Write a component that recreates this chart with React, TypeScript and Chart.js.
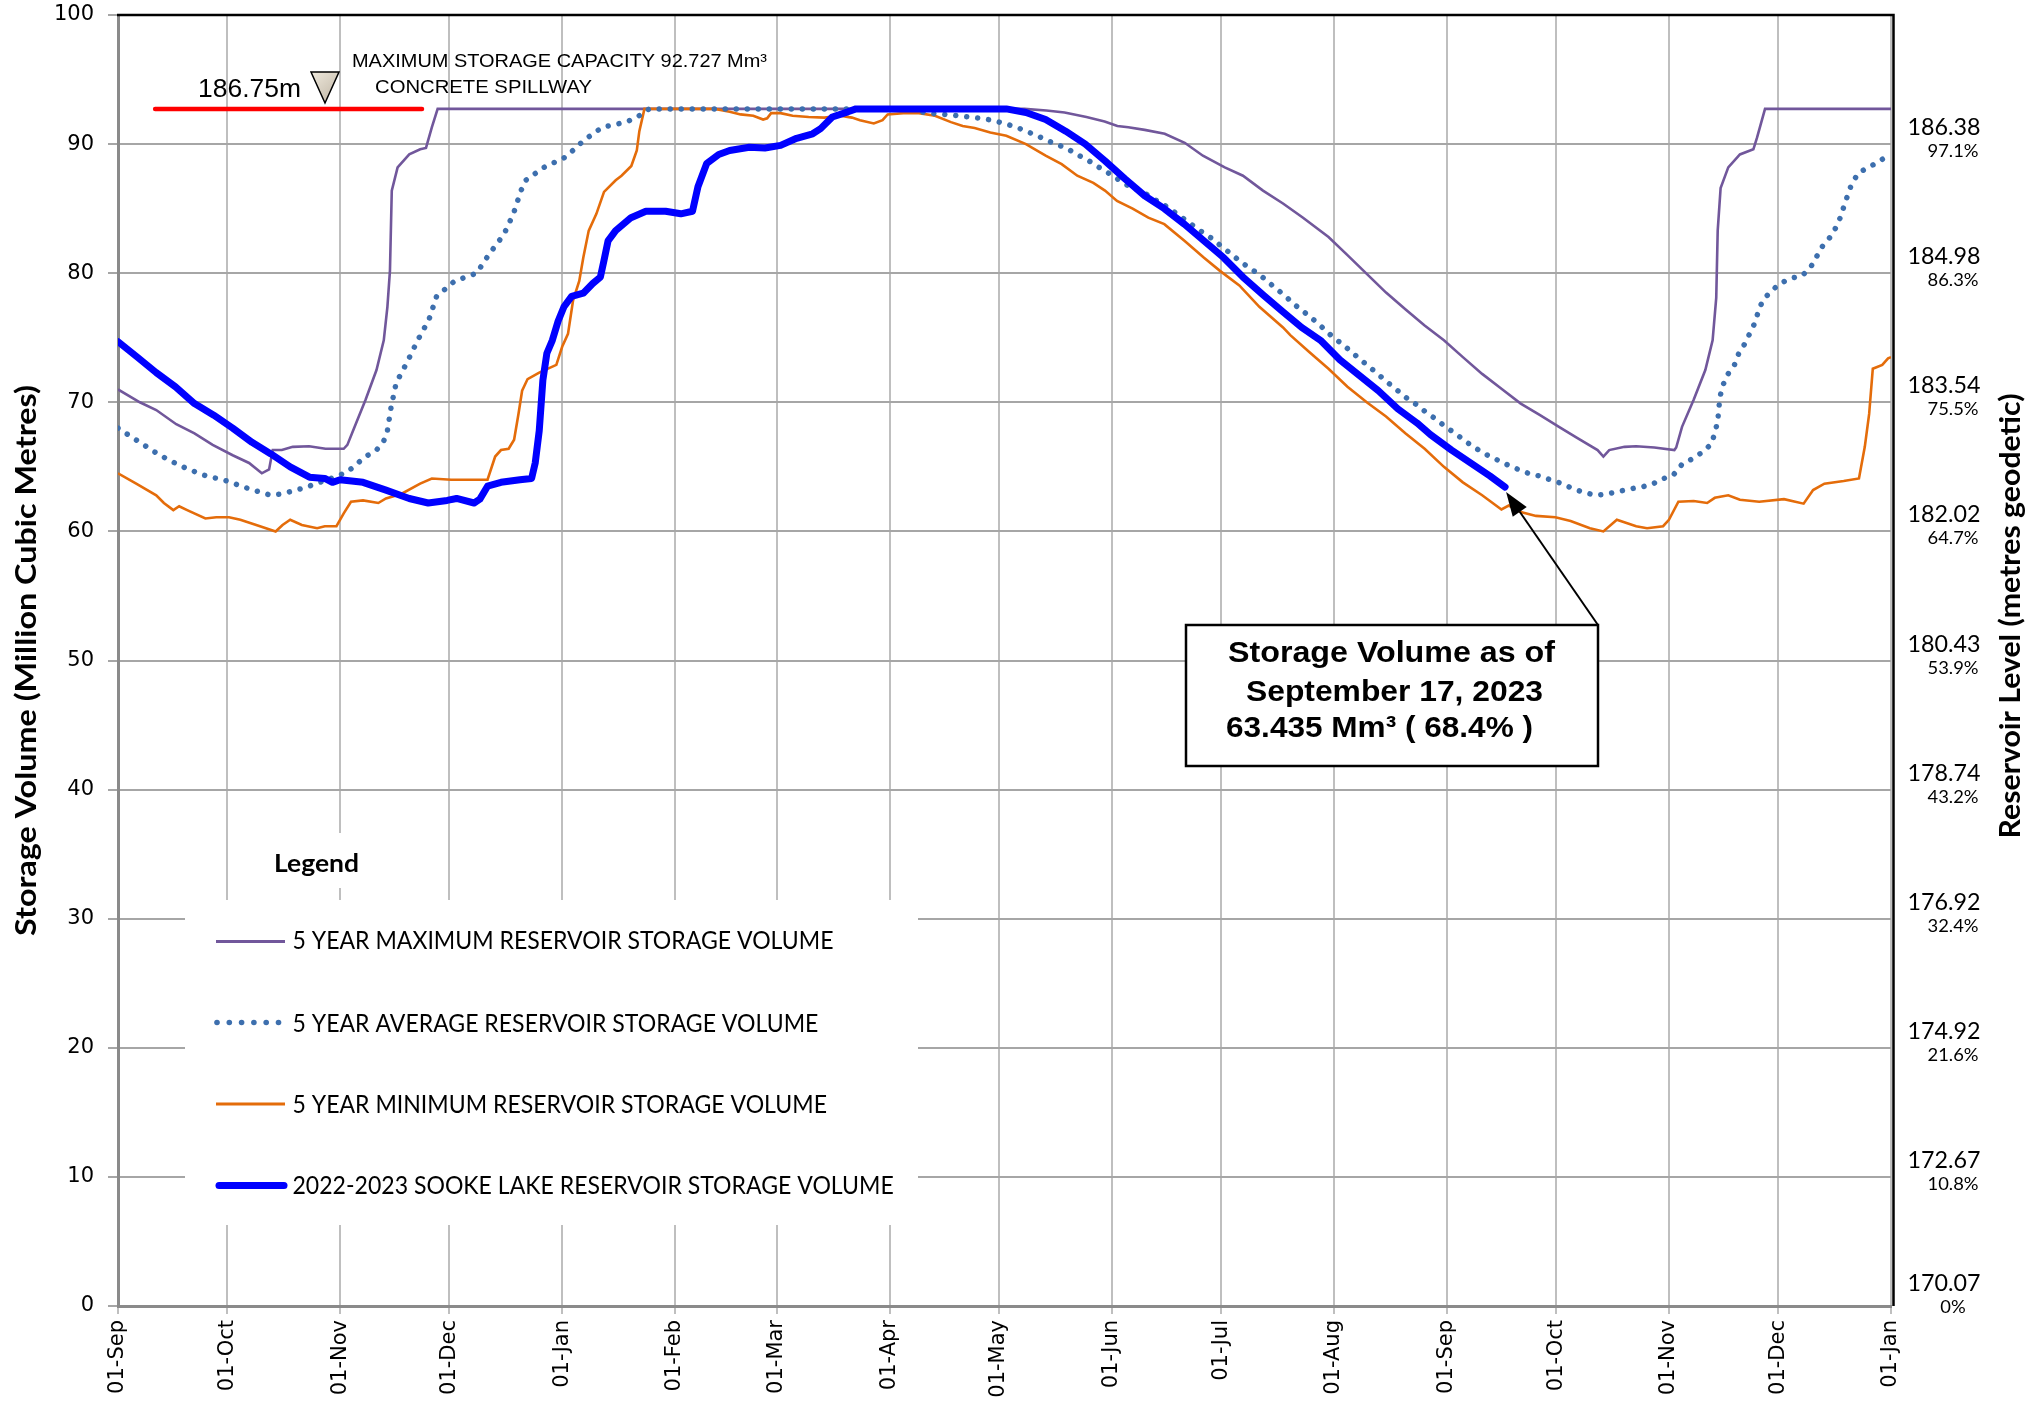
import React, { useEffect, useRef } from 'react';
import { Chart, registerables } from 'chart.js';

Chart.register(...registerables);

// ---------- DATA ----------
// x = days since 01-Sep-2022, y = storage volume (million m³)
const MONTH_DAYS = [0, 30, 61, 91, 122, 153, 181, 212, 242, 273, 303, 334, 365, 395, 426, 456, 487];
const MONTH_LABELS = ['01-Sep', '01-Oct', '01-Nov', '01-Dec', '01-Jan', '01-Feb', '01-Mar', '01-Apr', '01-May', '01-Jun', '01-Jul', '01-Aug', '01-Sep', '01-Oct', '01-Nov', '01-Dec', '01-Jan'];

const Y_TICK_VALUES = [0, 10, 20, 30, 40, 50, 60, 70, 80, 90];
const RIGHT_LEVELS = ['170.07', '172.67', '174.92', '176.92', '178.74', '180.43', '182.02', '183.54', '184.98', '186.38'];
const RIGHT_PERCENTS = ['0%', '10.8%', '21.6%', '32.4%', '43.2%', '53.9%', '64.7%', '75.5%', '86.3%', '97.1%'];

const MAX_DAYS = [0, 6, 10.5, 16, 21, 26, 31.5, 36, 39.5, 41.5, 42.5, 45, 48, 52.5, 57, 62, 63, 65, 68, 71, 73, 74, 74.7, 75.2, 76.8, 80, 83, 84.6, 86.2, 87.8, 249, 255, 260, 266, 271, 274.5, 277.5, 282, 287.5, 293, 298, 304, 309, 314.5, 320, 325.5, 332.5, 337.7, 343, 348.3, 353.6, 358.9, 364.2, 369.4, 374.7, 380, 385.3, 390.6, 395.8, 401, 406.4, 408, 409.6, 413.8, 417, 422, 427.5, 428, 429.6, 432.8, 436, 438, 439, 439.4, 440.2, 442.3, 445.5, 449.2, 450.2, 452.4, 487];
const MAX_VOLUMES = [71.0, 70.0, 69.4, 68.3, 67.6, 66.7, 65.9, 65.3, 64.5, 64.8, 66.3, 66.3, 66.55, 66.6, 66.4, 66.4, 66.7, 68.1, 70.2, 72.5, 74.8, 77.4, 80.2, 86.4, 88.2, 89.2, 89.6, 89.7, 91.3, 92.727, 92.727, 92.6, 92.45, 92.1, 91.75, 91.4, 91.3, 91.1, 90.8, 90.1, 89.1, 88.2, 87.55, 86.4, 85.4, 84.3, 82.8, 81.4, 79.95, 78.5, 77.2, 75.95, 74.8, 73.5, 72.2, 71.05, 69.9, 69.0, 68.1, 67.2, 66.3, 65.8, 66.3, 66.55, 66.6, 66.5, 66.3, 66.5, 68.1, 70.2, 72.5, 74.8, 78.1, 83.3, 86.6, 88.2, 89.2, 89.6, 90.5, 92.727, 92.727];

const AVG_DAYS = [0, 6, 11.5, 17, 23, 30, 36, 42, 45, 51.5, 57.5, 63, 68, 71, 73, 74, 75, 76.4, 79.4, 82.4, 85.4, 87.5, 92.5, 98.5, 102, 106, 108.6, 110.7, 112, 117, 123, 128, 133, 139.5, 142.7, 145, 146, 218, 222, 227, 230.5, 233.7, 237, 240, 243.4, 246.4, 249.4, 252.5, 255.4, 258.6, 261.6, 264.4, 267.3, 270, 273, 276, 278.7, 281.5, 284.2, 287, 289.6, 292.3, 295, 297.7, 300.4, 303, 305.7, 308.3, 310.8, 313.5, 316, 318.6, 321.1, 323.7, 326.2, 328.8, 331.2, 333.7, 336.3, 338.8, 341.3, 343.9, 346.4, 348.9, 351.5, 354.1, 356.8, 359.4, 362, 364.6, 367.3, 370, 372.6, 375.5, 378.4, 381.3, 384.2, 387.4, 390.3, 393.5, 396.6, 399.7, 402.8, 406, 409, 412.3, 415.5, 418.7, 421.7, 424.6, 427.3, 429.6, 432.3, 435, 437.6, 438.6, 439.4, 440, 440.8, 442, 444, 445.2, 447, 448.3, 449.7, 450.6, 451.8, 454, 456.6, 459.4, 462.6, 465, 466.6, 468.2, 470.3, 472, 473.2, 474.2, 475.3, 476.3, 478.2, 481.2, 484, 485];
const AVG_VOLUMES = [68.0, 66.9, 65.9, 65.1, 64.4, 63.9, 63.3, 62.8, 62.9, 63.4, 64.0, 64.6, 65.8, 66.3, 67.0, 67.8, 69.6, 71.5, 73.1, 74.85, 76.4, 78.2, 79.4, 80.0, 81.5, 83.0, 84.6, 86.4, 87.2, 88.2, 89.0, 90.3, 91.3, 91.7, 92.1, 92.6, 92.727, 92.727, 92.4, 92.3, 92.2, 92.1, 92.0, 91.85, 91.6, 91.35, 91.0, 90.65, 90.25, 89.9, 89.5, 89.05, 88.6, 88.1, 87.6, 87.0, 86.6, 86.3, 85.8, 85.35, 84.85, 84.3, 83.75, 83.2, 82.7, 82.1, 81.5, 80.9, 80.4, 79.9, 79.3, 78.7, 78.1, 77.45, 76.9, 76.3, 75.7, 75.05, 74.5, 73.9, 73.3, 72.7, 72.1, 71.5, 70.9, 70.3, 69.8, 69.2, 68.7, 68.1, 67.6, 67.0, 66.5, 66.0, 65.6, 65.2, 64.85, 64.5, 64.3, 64.0, 63.7, 63.3, 63.0, 62.8, 62.9, 63.1, 63.3, 63.45, 63.7, 64.1, 64.4, 65.2, 65.6, 66.1, 66.75, 67.6, 68.55, 70.4, 71.3, 72.1, 72.9, 73.8, 74.6, 75.4, 76.2, 77.1, 77.9, 78.6, 79.2, 79.6, 79.8, 80.5, 81.3, 82.1, 82.8, 83.6, 84.4, 85.3, 86.2, 87.0, 87.8, 88.25, 88.7, 88.9];

const MIN_DAYS = [0, 5, 10.5, 12.6, 15.2, 16.8, 19, 24, 27, 30.5, 33.6, 39, 43.3, 45.2, 47.3, 50.5, 54.7, 56.8, 60, 62, 64, 67.3, 71.5, 73.6, 77.8, 83, 86.2, 91.5, 96.7, 101.5, 103.6, 105.2, 107.3, 108.8, 110, 111, 112.5, 115.7, 120.4, 122, 123.6, 125, 126.7, 127.8, 129.3, 131.4, 133.5, 136.7, 138.3, 141, 142.5, 143.2, 144.6, 164, 168, 171, 174.5, 177.2, 178.3, 179.4, 182, 185.3, 189.7, 194, 198.4, 201.6, 203.8, 207.6, 210, 211.4, 215.7, 220, 224.4, 228.8, 232, 235.3, 239.6, 244, 249.4, 254.8, 259.2, 263.5, 267.9, 271.1, 274.4, 278.7, 283, 287.4, 293, 298.3, 302.6, 308, 313.5, 320, 322, 327.2, 332.5, 337.7, 343, 348.3, 353.6, 358.9, 364.2, 369.4, 374.7, 380, 382, 385.3, 389.5, 394.8, 399, 404.3, 408, 411.7, 417, 420, 424.4, 426, 428.6, 432.8, 436.5, 438.6, 442.3, 445.5, 450.8, 457.6, 463, 465.6, 468.7, 474, 478.2, 479.8, 481, 482, 484.6, 486.2, 487];
const MIN_VOLUMES = [64.5, 63.7, 62.8, 62.2, 61.65, 61.95, 61.65, 61.0, 61.1, 61.1, 60.9, 60.4, 60.0, 60.5, 60.9, 60.5, 60.25, 60.4, 60.4, 61.4, 62.3, 62.4, 62.2, 62.55, 62.9, 63.7, 64.1, 64.0, 64.0, 64.0, 65.8, 66.3, 66.4, 67.1, 69.1, 70.9, 71.8, 72.3, 72.9, 74.3, 75.3, 77.9, 79.4, 81.2, 83.3, 84.6, 86.3, 87.2, 87.55, 88.3, 89.5, 91.0, 92.727, 92.727, 92.5, 92.3, 92.2, 91.9, 92.0, 92.4, 92.4, 92.2, 92.1, 92.05, 92.2, 92.05, 91.85, 91.6, 91.85, 92.3, 92.4, 92.4, 92.2, 91.7, 91.4, 91.25, 90.9, 90.65, 90.0, 89.1, 88.45, 87.55, 87.0, 86.4, 85.6, 85.0, 84.3, 83.8, 82.5, 81.2, 80.2, 79.05, 77.4, 75.8, 75.2, 73.9, 72.6, 71.2, 70.0, 68.9, 67.6, 66.4, 65.0, 63.8, 62.8, 61.7, 62.0, 61.5, 61.2, 61.1, 60.8, 60.25, 60.0, 60.9, 60.4, 60.25, 60.4, 60.9, 62.3, 62.35, 62.2, 62.6, 62.8, 62.45, 62.3, 62.5, 62.15, 63.2, 63.7, 63.9, 64.1, 66.55, 69.1, 72.6, 72.9, 73.4, 73.5];

const CURRENT_DAYS = [0, 5.3, 10.5, 15.8, 21, 26.3, 31.5, 36.8, 42, 47.3, 52.6, 56.8, 58.9, 61, 67.3, 73.6, 80, 85.2, 90.4, 93, 97.8, 99.4, 101.5, 105.2, 110.4, 113.6, 114.6, 115.7, 116.7, 117.8, 119.3, 120.9, 122.5, 124.6, 127.8, 130.4, 132.5, 133.5, 134.6, 136.7, 140.9, 145, 150.4, 154.6, 157.8, 159.3, 161.7, 165, 168, 173.4, 177.7, 182, 186.4, 190.8, 193, 196.2, 200.5, 202.7, 244, 249.4, 254.8, 260.3, 265.7, 271.1, 276.6, 282, 287.4, 292.9, 298.3, 303.7, 309, 314.6, 320, 325.1, 330.3, 335.6, 340.9, 346.2, 351.5, 356.8, 360.5, 366.3, 371.5, 376.8, 381];
const CURRENT_VOLUMES = [74.7, 73.5, 72.3, 71.2, 69.9, 69.0, 68.0, 66.9, 66.0, 65.0, 64.2, 64.1, 63.8, 64.0, 63.8, 63.2, 62.55, 62.2, 62.4, 62.55, 62.2, 62.5, 63.5, 63.8, 64.0, 64.1, 65.3, 67.8, 71.7, 73.8, 74.8, 76.3, 77.4, 78.2, 78.45, 79.2, 79.7, 81.0, 82.5, 83.3, 84.3, 84.8, 84.8, 84.6, 84.8, 86.7, 88.5, 89.2, 89.5, 89.75, 89.7, 89.9, 90.45, 90.8, 91.2, 92.1, 92.5, 92.727, 92.727, 92.45, 91.9, 91.0, 90.0, 88.7, 87.3, 86.0, 85.0, 83.8, 82.5, 81.2, 79.7, 78.3, 77.0, 75.8, 74.8, 73.3, 72.1, 70.9, 69.5, 68.4, 67.5, 66.3, 65.3, 64.3, 63.435];

const SPILLWAY_VOLUME = 92.727;
const SPILLWAY_LINE_DAYS = [10.2, 83.5];

const LEGEND_LABELS = [
  '5 YEAR MAXIMUM RESERVOIR STORAGE VOLUME',
  '5 YEAR AVERAGE RESERVOIR STORAGE VOLUME',
  '5 YEAR MINIMUM RESERVOIR STORAGE VOLUME',
  '2022-2023 SOOKE LAKE RESERVOIR STORAGE VOLUME',
];

// ---------- STYLES ----------
const C_MAX = '#71579b';
const C_AVG = '#3d6fae';
const C_MIN = '#e46c0a';
const C_CUR = '#0000ff';

const toPoints = (xs: number[], ys: number[]) => xs.map((x, i) => ({ x, y: ys[i] }));

function drawText(
  ctx: CanvasRenderingContext2D,
  text: string,
  x: number,
  y: number,
  font: string,
  opts: { width?: number; align?: CanvasTextAlign; rotate?: number; baseline?: CanvasTextBaseline; sx?: number } = {}
) {
  ctx.save();
  ctx.font = font;
  ctx.fillStyle = '#000';
  ctx.textAlign = opts.align ?? 'left';
  ctx.textBaseline = opts.baseline ?? 'alphabetic';
  ctx.translate(x, y);
  if (opts.rotate) ctx.rotate(opts.rotate);
  if (opts.width) {
    const w = ctx.measureText(text).width;
    ctx.scale(opts.width / w, 1);
  } else if (opts.sx) {
    ctx.scale(opts.sx, 1);
  }
  ctx.fillText(text, 0, 0);
  ctx.restore();
}

const overlayPlugin = {
  id: 'overlay',
  afterDraw(chart: any) {
    const { ctx, chartArea: a, scales } = chart;
    const xs = scales.x;
    const ys = scales.y;
    ctx.save();

    // black top/right frame
    ctx.strokeStyle = '#000';
    ctx.lineWidth = 2.5;
    ctx.beginPath();
    ctx.moveTo(a.left - 1, a.top);
    ctx.lineTo(a.right + 2.5, a.top);
    ctx.lineTo(a.right + 2.5, a.bottom);
    ctx.stroke();

    // spillway red line
    const ySp = ys.getPixelForValue(SPILLWAY_VOLUME);
    ctx.strokeStyle = '#ff0000';
    ctx.lineWidth = 4.5;
    ctx.lineCap = 'round';
    ctx.beginPath();
    ctx.moveTo(xs.getPixelForValue(SPILLWAY_LINE_DAYS[0]), ySp);
    ctx.lineTo(xs.getPixelForValue(SPILLWAY_LINE_DAYS[1]), ySp);
    ctx.stroke();

    // triangle marker
    const grad = ctx.createLinearGradient(311, 72, 339, 103);
    grad.addColorStop(0, '#efe9dd');
    grad.addColorStop(1, '#bdb3a2');
    ctx.beginPath();
    ctx.moveTo(311, 72);
    ctx.lineTo(339, 72);
    ctx.lineTo(325, 103);
    ctx.closePath();
    ctx.fillStyle = grad;
    ctx.fill();
    ctx.strokeStyle = '#000';
    ctx.lineWidth = 1.5;
    ctx.lineCap = 'butt';
    ctx.stroke();

    drawText(ctx, '186.75m', 198, 96.5, '26px "Liberation Sans"', { width: 103 });
    drawText(ctx, 'MAXIMUM STORAGE CAPACITY 92.727 Mm³', 352, 66.5, '19px "Liberation Sans"', { width: 415 });
    drawText(ctx, 'CONCRETE SPILLWAY', 375, 92.5, '19px "Liberation Sans"', { width: 217 });

    // right-side level / percent labels
    ctx.font = '24px Lato';
    const sxNum = 73 / ctx.measureText('186.38').width;
    ctx.font = '18px Lato';
    const sxPct = 51 / ctx.measureText('97.1%').width;
    Y_TICK_VALUES.forEach((v, i) => {
      const gy = ys.getPixelForValue(v) + (v === 0 ? -6 : 0);
      drawText(ctx, RIGHT_LEVELS[i], 1944, gy - 9, '24px Lato', { align: 'center', sx: sxNum });
      drawText(ctx, RIGHT_PERCENTS[i], 1953, gy + 13, '18px Lato', { align: 'center', sx: sxPct });
    });

    // axis titles
    drawText(ctx, 'Storage Volume (Million Cubic Metres)', 27, 660.5, 'bold 28px Lato', {
      align: 'center', baseline: 'middle', rotate: -Math.PI / 2, width: 551,
    });
    drawText(ctx, 'Reservoir Level (metres geodetic)', 2011, 616, 'bold 28px Lato', {
      align: 'center', baseline: 'middle', rotate: -Math.PI / 2, width: 445,
    });

    // annotation box + arrow
    const tipX = xs.getPixelForValue(CURRENT_DAYS[CURRENT_DAYS.length - 1]) + 1;
    const tipY = ys.getPixelForValue(CURRENT_VOLUMES[CURRENT_VOLUMES.length - 1]) + 5;
    const fromX = 1598;
    const fromY = 625;
    const ang = Math.atan2(tipY - fromY, tipX - fromX);
    const hl = 24;
    const hw = 8.5;
    const bx = tipX - hl * Math.cos(ang);
    const by = tipY - hl * Math.sin(ang);
    ctx.strokeStyle = '#000';
    ctx.lineWidth = 2;
    ctx.beginPath();
    ctx.moveTo(fromX, fromY);
    ctx.lineTo(bx, by);
    ctx.stroke();
    ctx.beginPath();
    ctx.moveTo(tipX, tipY);
    ctx.lineTo(bx + hw * Math.sin(ang), by - hw * Math.cos(ang));
    ctx.lineTo(bx - hw * Math.sin(ang), by + hw * Math.cos(ang));
    ctx.closePath();
    ctx.fillStyle = '#000';
    ctx.fill();

    ctx.fillStyle = '#fff';
    ctx.fillRect(1186, 625, 412, 141);
    ctx.strokeStyle = '#000';
    ctx.lineWidth = 2.5;
    ctx.strokeRect(1186, 625, 412, 141);
    drawText(ctx, 'Storage Volume as of', 1228, 661.5, 'bold 30px "Liberation Sans"', { width: 327 });
    drawText(ctx, 'September 17, 2023', 1246, 700.5, 'bold 30px "Liberation Sans"', { width: 297 });
    drawText(ctx, '63.435 Mm³ ( 68.4% )', 1226, 737, 'bold 30px "Liberation Sans"', { width: 307 });

    // legend
    ctx.fillStyle = '#fff';
    ctx.fillRect(185, 900, 733, 325);
    ctx.fillRect(262, 833, 110, 55);
    drawText(ctx, 'Legend', 274, 871.5, 'bold 25px Lato', { width: 85 });

    ctx.font = '25px Lato';
    const sxLeg = 541 / ctx.measureText(LEGEND_LABELS[0]).width;
    const rowMarkY = [941.5, 1022.5, 1104, 1185.5];
    const rowBase = [949.3, 1031.7, 1112.7, 1194];
    LEGEND_LABELS.forEach((lab, i) => {
      drawText(ctx, lab, 292.5, rowBase[i], '25px Lato', { sx: sxLeg });
    });
    ctx.lineCap = 'butt';
    ctx.strokeStyle = C_MAX;
    ctx.lineWidth = 3;
    ctx.beginPath();
    ctx.moveTo(216, rowMarkY[0]);
    ctx.lineTo(285, rowMarkY[0]);
    ctx.stroke();
    ctx.fillStyle = C_AVG;
    for (let k = 0; k < 6; k++) {
      ctx.beginPath();
      ctx.arc(217 + k * 12.3, rowMarkY[1], 2.8, 0, Math.PI * 2);
      ctx.fill();
    }
    ctx.strokeStyle = C_MIN;
    ctx.lineWidth = 3;
    ctx.beginPath();
    ctx.moveTo(216, rowMarkY[2]);
    ctx.lineTo(285, rowMarkY[2]);
    ctx.stroke();
    ctx.strokeStyle = C_CUR;
    ctx.lineWidth = 7;
    ctx.lineCap = 'round';
    ctx.beginPath();
    ctx.moveTo(219, rowMarkY[3]);
    ctx.lineTo(284, rowMarkY[3]);
    ctx.stroke();

    ctx.restore();
  },
};

export default function App() {
  const canvasRef = useRef<HTMLCanvasElement | null>(null);

  useEffect(() => {
    const canvas = canvasRef.current;
    if (!canvas) return;
    const chart = new Chart(canvas, {
      type: 'line',
      data: {
        datasets: [
          {
            label: LEGEND_LABELS[3],
            data: toPoints(CURRENT_DAYS, CURRENT_VOLUMES),
            borderColor: C_CUR,
            borderWidth: 7,
            borderCapStyle: 'round',
            borderJoinStyle: 'round',
            pointRadius: 0,
            tension: 0,
            order: 0,
          },
          {
            label: LEGEND_LABELS[1],
            data: toPoints(AVG_DAYS, AVG_VOLUMES),
            borderColor: C_AVG,
            borderWidth: 5.5,
            borderDash: [0.01, 11],
            borderCapStyle: 'round',
            pointRadius: 0,
            tension: 0,
            order: 1,
          },
          {
            label: LEGEND_LABELS[2],
            data: toPoints(MIN_DAYS, MIN_VOLUMES),
            borderColor: C_MIN,
            borderWidth: 2.6,
            pointRadius: 0,
            tension: 0,
            order: 2,
          },
          {
            label: LEGEND_LABELS[0],
            data: toPoints(MAX_DAYS, MAX_VOLUMES),
            borderColor: C_MAX,
            borderWidth: 2.6,
            pointRadius: 0,
            tension: 0,
            order: 3,
          },
        ],
      } as any,
      options: {
        responsive: false,
        animation: false,
        devicePixelRatio: 1,
        layout: { padding: { top: 15, right: 141, left: 0, bottom: 0 } },
        plugins: { legend: { display: false }, tooltip: { enabled: false } },
        scales: {
          x: {
            type: 'linear',
            min: 0,
            max: 487,
            afterBuildTicks: (axis: any) => {
              axis.ticks = MONTH_DAYS.map((v) => ({ value: v }));
            },
            afterFit: (s: any) => {
              s.height = 97;
              s.paddingLeft = 0;
              s.paddingRight = 0;
            },
            ticks: {
              autoSkip: false,
              minRotation: 90,
              maxRotation: 90,
              padding: 6,
              color: '#000',
              font: { family: 'DejaVu Sans', size: 21 },
              callback: (v: any) => {
                const i = MONTH_DAYS.indexOf(Number(v));
                return i >= 0 ? MONTH_LABELS[i] : '';
              },
            },
            grid: { color: '#bfbfbf', lineWidth: 2, tickLength: 8 },
            border: { color: '#8a8a8a', width: 3 },
          },
          y: {
            min: 0,
            max: 100,
            afterFit: (s: any) => {
              s.width = 118;
              s.paddingTop = 0;
              s.paddingBottom = 0;
            },
            ticks: {
              stepSize: 10,
              padding: 14,
              color: '#000',
              font: { family: 'DejaVu Sans', size: 21 },
            },
            grid: { color: '#a6a6a6', lineWidth: 2, tickLength: 10 },
            border: { color: '#8a8a8a', width: 3 },
          },
        },
      } as any,
      plugins: [overlayPlugin],
    });
    return () => chart.destroy();
  }, []);

  return (
    <div style={{ position: 'absolute', left: 0, top: 0, width: 2032, height: 1403 }}>
      <canvas ref={canvasRef} width={2032} height={1403} style={{ display: 'block', width: 2032, height: 1403 }} />
    </div>
  );
}
